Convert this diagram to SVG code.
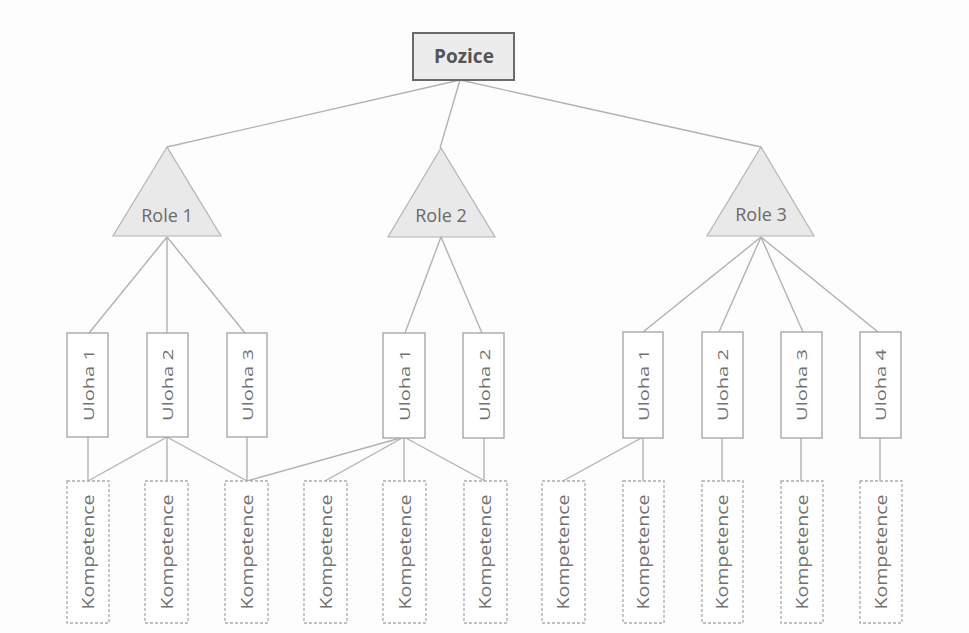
<svg xmlns="http://www.w3.org/2000/svg" width="969" height="633" viewBox="0 0 969 633">
<style>
.bg{fill:#fdfdfd}
.top{fill:#ececec;stroke:#6a6a6a;stroke-width:2}
.tt{font-family:"Open Sans","Liberation Sans",sans-serif;font-weight:bold;font-size:19px;fill:#555;text-anchor:middle}
.role{fill:#e9e9e9;stroke:#b4b4b4;stroke-width:1.2}
.rt{font-family:"Open Sans","Liberation Sans",sans-serif;font-size:18px;fill:#6a6a6a;text-anchor:middle}
.task{fill:#fff;stroke:#a8a8a8;stroke-width:1.4}
.comp{fill:#fff;stroke:#acacac;stroke-width:1.3;stroke-dasharray:3 2}
.vt{font-family:"Open Sans","Liberation Sans",sans-serif;fill:#727272;text-anchor:middle;dominant-baseline:central}
.ut{font-size:15px}
.kt{font-size:16px}
.c line{stroke:#b2b2b2;stroke-width:1.4}
</style>
<rect class="bg" x="0" y="0" width="969" height="633"/>
<g class="c" id="connectors">
<line x1="460" y1="80" x2="167" y2="147"/>
<line x1="460" y1="80" x2="440" y2="148"/>
<line x1="460" y1="80" x2="761" y2="147"/>
<line x1="167" y1="237" x2="89" y2="333"/>
<line x1="167" y1="237" x2="167" y2="333"/>
<line x1="167" y1="237" x2="245" y2="333"/>
<line x1="441" y1="237" x2="405" y2="333"/>
<line x1="441" y1="237" x2="482" y2="333"/>
<line x1="761" y1="237" x2="643" y2="332"/>
<line x1="761" y1="237" x2="719" y2="332"/>
<line x1="761" y1="237" x2="803" y2="332"/>
<line x1="761" y1="237" x2="878" y2="332"/>
<line x1="88" y1="437" x2="88" y2="481"/>
<line x1="167" y1="437" x2="88" y2="481"/>
<line x1="167" y1="437" x2="167" y2="481"/>
<line x1="167" y1="437" x2="247" y2="481"/>
<line x1="247" y1="437" x2="247" y2="481"/>
<line x1="404" y1="437" x2="247" y2="481"/>
<line x1="404" y1="437" x2="325" y2="481"/>
<line x1="404" y1="437" x2="404" y2="481"/>
<line x1="404" y1="437" x2="485" y2="481"/>
<line x1="484" y1="437" x2="484" y2="481"/>
<line x1="643" y1="437" x2="563" y2="481"/>
<line x1="643" y1="437" x2="643" y2="481"/>
<line x1="722" y1="437" x2="722" y2="481"/>
<line x1="801" y1="437" x2="801" y2="481"/>
<line x1="880" y1="437" x2="880" y2="481"/>
</g>
<g id="pozice"><rect class="top" x="413" y="33" width="101" height="47"/><text class="tt" x="464" y="63">Pozice</text></g>
<g id="role1"><polygon class="role" points="167,147 113,236 221,236"/><text class="rt" x="167" y="222">Role 1</text></g>
<g id="role2"><polygon class="role" points="441,148 388,237 495,237"/><text class="rt" x="441" y="222">Role 2</text></g>
<g id="role3"><polygon class="role" points="761,147 707,236 814,236"/><text class="rt" x="761" y="221">Role 3</text></g>
<g id="r1u1"><rect class="task" x="67" y="333" width="41" height="104"/><text class="vt ut" transform="translate(88,385) rotate(-90)" textLength="72" lengthAdjust="spacingAndGlyphs">Uloha 1</text></g>
<g id="r1u2"><rect class="task" x="147" y="333" width="41" height="104"/><text class="vt ut" transform="translate(167,385) rotate(-90)" textLength="72" lengthAdjust="spacingAndGlyphs">Uloha 2</text></g>
<g id="r1u3"><rect class="task" x="227" y="333" width="40" height="104"/><text class="vt ut" transform="translate(247,385) rotate(-90)" textLength="72" lengthAdjust="spacingAndGlyphs">Uloha 3</text></g>
<g id="r2u1"><rect class="task" x="383" y="333" width="42" height="105"/><text class="vt ut" transform="translate(404,385) rotate(-90)" textLength="72" lengthAdjust="spacingAndGlyphs">Uloha 1</text></g>
<g id="r2u2"><rect class="task" x="463" y="333" width="41" height="105"/><text class="vt ut" transform="translate(484,385) rotate(-90)" textLength="72" lengthAdjust="spacingAndGlyphs">Uloha 2</text></g>
<g id="r3u1"><rect class="task" x="623" y="332" width="40" height="106"/><text class="vt ut" transform="translate(643,385) rotate(-90)" textLength="72" lengthAdjust="spacingAndGlyphs">Uloha 1</text></g>
<g id="r3u2"><rect class="task" x="702" y="332" width="41" height="106"/><text class="vt ut" transform="translate(722,385) rotate(-90)" textLength="72" lengthAdjust="spacingAndGlyphs">Uloha 2</text></g>
<g id="r3u3"><rect class="task" x="781" y="332" width="41" height="106"/><text class="vt ut" transform="translate(801,385) rotate(-90)" textLength="72" lengthAdjust="spacingAndGlyphs">Uloha 3</text></g>
<g id="r3u4"><rect class="task" x="860" y="332" width="41" height="106"/><text class="vt ut" transform="translate(880,385) rotate(-90)" textLength="72" lengthAdjust="spacingAndGlyphs">Uloha 4</text></g>
<g id="k1"><rect class="comp" x="67" y="481" width="42" height="142"/><text class="vt kt" transform="translate(88,552) rotate(-90)" textLength="115" lengthAdjust="spacingAndGlyphs">Kompetence</text></g>
<g id="k2"><rect class="comp" x="145" y="481" width="43" height="142"/><text class="vt kt" transform="translate(167,552) rotate(-90)" textLength="115" lengthAdjust="spacingAndGlyphs">Kompetence</text></g>
<g id="k3"><rect class="comp" x="225" y="481" width="43" height="142"/><text class="vt kt" transform="translate(247,552) rotate(-90)" textLength="115" lengthAdjust="spacingAndGlyphs">Kompetence</text></g>
<g id="k4"><rect class="comp" x="304" y="481" width="43" height="142"/><text class="vt kt" transform="translate(326,552) rotate(-90)" textLength="115" lengthAdjust="spacingAndGlyphs">Kompetence</text></g>
<g id="k5"><rect class="comp" x="383" y="481" width="43" height="142"/><text class="vt kt" transform="translate(405,552) rotate(-90)" textLength="115" lengthAdjust="spacingAndGlyphs">Kompetence</text></g>
<g id="k6"><rect class="comp" x="464" y="481" width="43" height="142"/><text class="vt kt" transform="translate(485,552) rotate(-90)" textLength="115" lengthAdjust="spacingAndGlyphs">Kompetence</text></g>
<g id="k7"><rect class="comp" x="542" y="481" width="43" height="142"/><text class="vt kt" transform="translate(563,552) rotate(-90)" textLength="115" lengthAdjust="spacingAndGlyphs">Kompetence</text></g>
<g id="k8"><rect class="comp" x="623" y="481" width="41" height="142"/><text class="vt kt" transform="translate(643,552) rotate(-90)" textLength="115" lengthAdjust="spacingAndGlyphs">Kompetence</text></g>
<g id="k9"><rect class="comp" x="702" y="481" width="41" height="142"/><text class="vt kt" transform="translate(722,552) rotate(-90)" textLength="115" lengthAdjust="spacingAndGlyphs">Kompetence</text></g>
<g id="k10"><rect class="comp" x="781" y="481" width="42" height="142"/><text class="vt kt" transform="translate(802,552) rotate(-90)" textLength="115" lengthAdjust="spacingAndGlyphs">Kompetence</text></g>
<g id="k11"><rect class="comp" x="860" y="481" width="42" height="142"/><text class="vt kt" transform="translate(881,552) rotate(-90)" textLength="115" lengthAdjust="spacingAndGlyphs">Kompetence</text></g>
</svg>
